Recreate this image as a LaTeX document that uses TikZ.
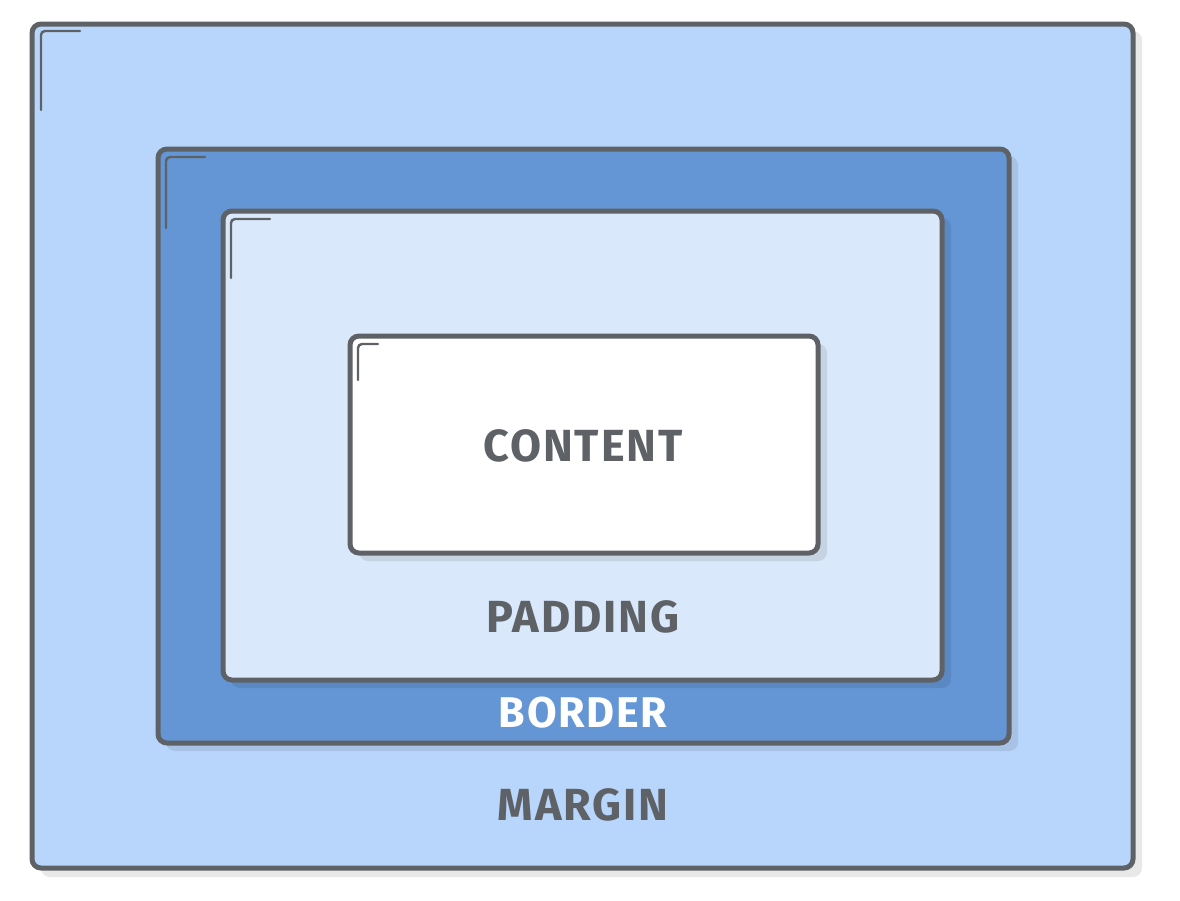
\documentclass[tikz,border=0pt]{standalone}
\usepackage{fontspec}
\newfontfamily\labelfont[LetterSpace=4]{Fira Sans}
\usetikzlibrary{calc}

% corner tick inside a box: #1 = start, #2 = length across, #3 = length down
\newcommand{\boxtick}[3]{%
  \draw[tick] ($#1+(#2,0)$) -- #1 -- ($#1+(0,#3)$);}

\begin{document}
\begin{tikzpicture}[x=1pt,y=-1pt]
% Define box model colours
\definecolor{marginblue}{RGB}{184,214,251}
\definecolor{borderblue}{RGB}{100,150,214}
\definecolor{paddingblue}{RGB}{217,232,250}
\definecolor{lineGray}{RGB}{94,98,102}

\tikzset{
  layer/.style={draw=lineGray,line width=5,rounded corners=9},
  drop/.style={fill=black,opacity=0.09,rounded corners=9},
  tick/.style={draw=lineGray,line width=2.4,rounded corners=4,line cap=round},
  tag/.style={font=\labelfont\bfseries\fontsize{45}{45}\selectfont,text=lineGray}
}

\useasboundingbox (0,0) rectangle (1180,900);

% Draw shadows and layers
\fill[drop] (41,31) rectangle (1142,877);
\draw[layer,fill=marginblue] (32,24) rectangle (1133,868);
\fill[drop] (166,156) rectangle (1018,751);
\draw[layer,fill=borderblue] (158,149) rectangle (1009,743);
\fill[drop] (231,218) rectangle (951,688);
\draw[layer,fill=paddingblue] (223,211) rectangle (942,680);
\fill[drop] (359,344) rectangle (827,561);
\draw[layer,fill=white] (350,336) rectangle (818,553);

% Draw corner ticks
\boxtick{(41,31)}{39}{79}
\boxtick{(166,157)}{39}{71}
\boxtick{(231,219)}{39}{59}
\boxtick{(358,344)}{20}{36}

% Add labels
\node[tag] (content) at (583,446) {CONTENT};
\node[tag] (padding) at (583,617) {PADDING};
\node[tag,text=white,font=\labelfont\bfseries\fontsize{43}{43}\selectfont] (border) at (583,713) {BORDER};
\node[tag] (margin) at (583,805) {MARGIN};
\end{tikzpicture}
\end{document}
